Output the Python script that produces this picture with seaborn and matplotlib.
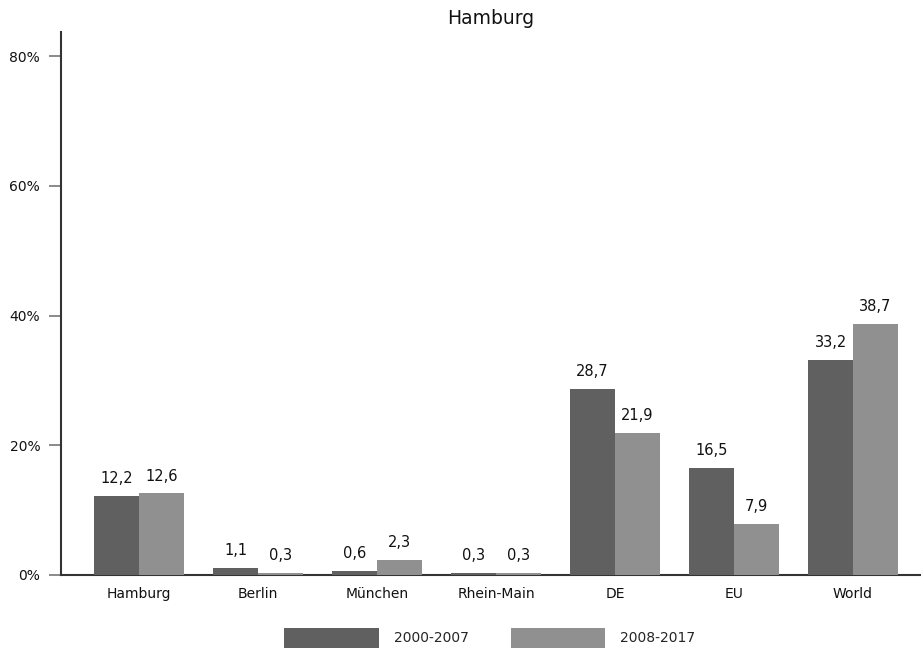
import matplotlib
matplotlib.use("Agg")
import matplotlib.pyplot as plt
import pandas as pd
import seaborn as sns

regions = ["Hamburg", "Berlin", "München", "Rhein-Main", "DE", "EU", "World"]
periods = ["2000-2007", "2008-2017"]
share_2000_2007 = [12.2, 1.1, 0.6, 0.3, 28.7, 16.5, 33.2]
share_2008_2017 = [12.6, 0.3, 2.3, 0.3, 21.9, 7.9, 38.7]
y_ticks = [0, 20, 40, 60, 80]

df = pd.DataFrame({
    "region": regions * 2,
    "period": [periods[0]] * len(regions) + [periods[1]] * len(regions),
    "share": share_2000_2007 + share_2008_2017,
})

sns.set_style("white")
plt.rcParams["font.family"] = ["DejaVu Sans"]

fig = plt.figure(figsize=(9.21, 6.49), dpi=100)
ax = fig.add_axes([61 / 921, 1 - 575 / 649, 859 / 921, (575 - 32) / 649])

sns.barplot(data=df, x="region", y="share", hue="period", order=regions,
            hue_order=periods, palette=["#606060", "#909090"], width=0.75,
            saturation=1, linewidth=0, zorder=3, ax=ax, legend=True)

for cont in ax.containers:
    labels = [f"{v:.1f}".replace(".", ",") for v in cont.datavalues]
    ax.bar_label(cont, labels=labels, padding=7, fontsize=10.5, color="#111111")

ax.set_xlim(-0.655, 6.563)
ax.set_ylim(0, 83.7)
ax.set_yticks(y_ticks)
ax.set_yticklabels([f"{t}%" for t in y_ticks])
ax.set_xlabel("")
ax.set_ylabel("")
ax.set_title("Hamburg", fontsize=13.5, pad=6, color="#111111")

for side in ["top", "right"]:
    ax.spines[side].set_visible(False)
for side in ["left", "bottom"]:
    ax.spines[side].set_color("#333333")
    ax.spines[side].set_linewidth(1.5)
    ax.spines[side].set_zorder(2)

ax.tick_params(axis="y", left=True, length=9, width=1.2, color="#777777",
               labelsize=10, labelcolor="#111111", pad=6)
ax.tick_params(axis="x", bottom=False, labelsize=10, labelcolor="#111111", pad=5)

ax.legend(loc="center", bbox_to_anchor=(490 / 921, 1 - 638 / 649),
          bbox_transform=fig.transFigure, ncol=2, frameon=False, fontsize=10,
          handlelength=6.8, handleheight=1.9, handletextpad=1.1,
          columnspacing=3.0)

fig.savefig("out.png", dpi=100)
